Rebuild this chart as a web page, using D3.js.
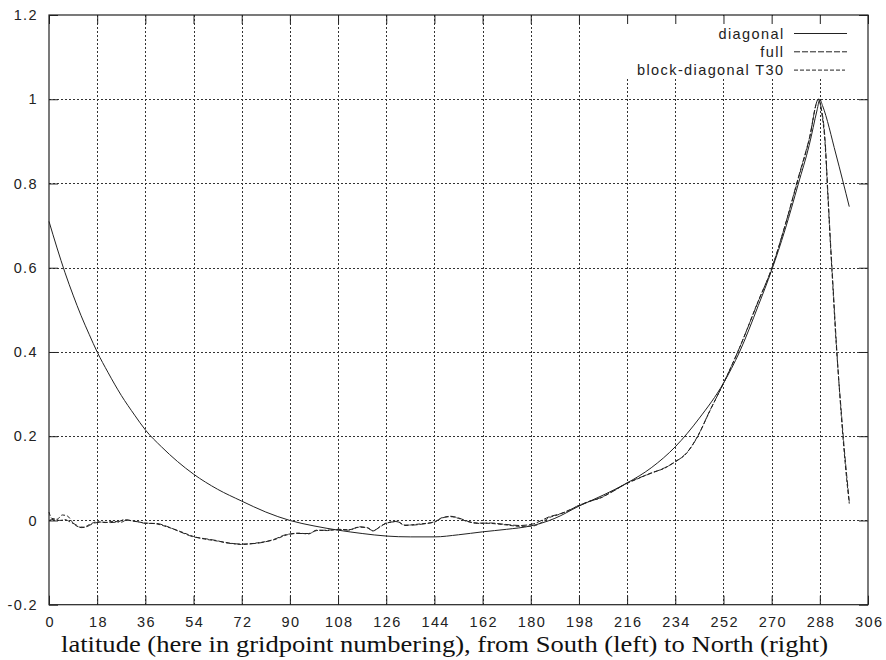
<!DOCTYPE html>
<html>
<head>
<meta charset="utf-8">
<script src="https://cdn.jsdelivr.net/npm/d3@7"></script>
<style>
  html, body { margin: 0; padding: 0; background: #fff; }
  svg { display: block; }
  .tick text, .legend text { font-family: "Liberation Sans", Arial, sans-serif; font-size: 14.5px; letter-spacing: 1.4px; fill: #222; }
</style>
</head>
<body>
<svg id="chart" width="886" height="660"></svg>
<script>
// Tick values
const xTicks = [0, 18, 36, 54, 72, 90, 108, 126, 144, 162, 180, 198, 216, 234, 252, 270, 288, 306];
const yTicks = [-0.2, 0, 0.2, 0.4, 0.6, 0.8, 1, 1.2];

// diagonal
const diagonalX = [0, 3, 6, 9, 12, 15, 18, 22, 27, 32, 36, 42, 48, 54, 63, 72, 81, 90, 99, 108, 117, 126, 135, 144, 153, 162, 171, 180, 189, 198, 207, 216, 225, 234, 243, 252, 258, 265, 270, 275, 280, 284, 287, 288, 289, 294, 299];
const diagonalY = [0.71, 0.647, 0.588, 0.535, 0.486, 0.442, 0.40, 0.352, 0.297, 0.250, 0.215, 0.175, 0.14, 0.11, 0.074, 0.046, 0.02, 0.0, -0.013, -0.023, -0.031, -0.037, -0.039, -0.039, -0.034, -0.027, -0.021, -0.013, 0.005, 0.034, 0.06, 0.089, 0.125, 0.175, 0.243, 0.326, 0.40, 0.51, 0.594, 0.69, 0.80, 0.89, 0.975, 1.0, 0.985, 0.87, 0.745];

// full
const fullX = [0, 2, 4, 6, 8, 10, 12, 14, 17, 20, 23, 26, 28, 31, 34, 36, 40, 44, 49, 54, 58, 62, 67, 72, 78, 84, 89, 93, 97, 100, 104, 108, 112, 116, 119, 121, 124, 126, 130, 133, 136, 139, 144, 147, 150, 153, 156, 160, 165, 170, 176, 181, 184, 187, 190, 193, 198, 202, 206, 211, 216, 220, 225, 230, 234, 238, 242, 247, 252, 258, 265, 270, 275, 280, 284, 287.5, 288.5, 290, 291, 292, 293, 294, 295, 296, 297, 298, 299];
const fullY = [0.0, 0.003, 0.0, 0.002, -0.004, -0.01, -0.017, -0.015, -0.006, -0.004, -0.005, -0.003, 0.002, -0.001, -0.004, -0.007, -0.007, -0.014, -0.027, -0.039, -0.043, -0.047, -0.054, -0.056, -0.054, -0.045, -0.033, -0.031, -0.031, -0.024, -0.023, -0.022, -0.023, -0.015, -0.018, -0.024, -0.014, -0.006, -0.003, -0.011, -0.011, -0.009, -0.003, 0.006, 0.010, 0.006, -0.001, -0.007, -0.006, -0.009, -0.012, -0.008, 0.0, 0.009, 0.014, 0.02, 0.036, 0.045, 0.054, 0.07, 0.089, 0.1, 0.112, 0.125, 0.139, 0.159, 0.195, 0.262, 0.325, 0.41, 0.52, 0.598, 0.70, 0.815, 0.905, 1.0, 0.98, 0.90, 0.78, 0.66, 0.55, 0.44, 0.34, 0.26, 0.18, 0.11, 0.045];

// block-diagonal T30
const blockX = [0, 1, 3, 5, 7, 9, 11, 13, 15, 18, 21, 24, 27, 29, 32, 36, 40, 44, 49, 54, 58, 62, 67, 72, 78, 84, 89, 93, 97, 100, 104, 108, 112, 116, 119, 121, 124, 126, 130, 133, 136, 139, 144, 147, 150, 153, 156, 160, 165, 170, 176, 181, 184, 187, 190, 193, 198, 202, 206, 211, 216, 220, 225, 230, 234, 238, 242, 247, 252, 258, 265, 270, 275, 280, 284, 287.5, 288.5, 290, 291, 292, 293, 294, 295, 296, 297, 298, 299];
const blockY = [0.02, 0.005, 0.003, 0.013, 0.01, -0.006, -0.015, -0.016, -0.01, -0.003, -0.005, -0.002, -0.004, 0.001, -0.002, -0.006, -0.008, -0.015, -0.026, -0.038, -0.044, -0.048, -0.053, -0.057, -0.053, -0.046, -0.034, -0.03, -0.032, -0.023, -0.024, -0.021, -0.022, -0.016, -0.017, -0.025, -0.013, -0.007, -0.002, -0.012, -0.01, -0.008, -0.004, 0.007, 0.009, 0.005, -0.002, -0.006, -0.007, -0.01, -0.014, -0.013, -0.005, 0.007, 0.013, 0.021, 0.035, 0.046, 0.053, 0.071, 0.088, 0.099, 0.113, 0.124, 0.14, 0.158, 0.196, 0.261, 0.326, 0.41, 0.521, 0.597, 0.70, 0.812, 0.903, 1.0, 0.975, 0.89, 0.77, 0.65, 0.54, 0.43, 0.34, 0.25, 0.17, 0.10, 0.04];

const svg = d3.select("#chart");
const plotLeft = 49, plotRight = 868, plotTop = 15, plotBottom = 604.7;
const x = d3.scaleLinear().domain([0, 306]).range([plotLeft, plotRight]);
const y = d3.scaleLinear().domain([-0.2, 1.2]).range([plotBottom, plotTop]);
const ink = "#222";

// dotted grid
const grid = svg.append("g").attr("stroke", "#333").attr("stroke-width", 1).attr("stroke-dasharray", "2,2");
grid.selectAll("line.gx").data(xTicks.slice(1, -1)).join("line")
  .attr("x1", d => Math.round(x(d)) + 0.5).attr("x2", d => Math.round(x(d)) + 0.5)
  .attr("y1", plotTop).attr("y2", plotBottom);
grid.selectAll("line.gy").data(yTicks.slice(1, -1)).join("line")
  .attr("x1", plotLeft).attr("x2", plotRight)
  .attr("y1", d => Math.round(y(d)) + 0.5).attr("y2", d => Math.round(y(d)) + 0.5);

// key area keeps the grid clear
svg.append("rect").attr("x", 624).attr("y", plotTop + 1).attr("width", plotRight - 625).attr("height", 63).attr("fill", "#fff");

// axes: inward ticks on all four sides
const tick = 9;
svg.append("g").attr("transform", `translate(0,${plotBottom})`)
  .call(d3.axisBottom(x).tickValues(xTicks).tickSizeInner(-tick).tickSizeOuter(0).tickPadding(12).tickFormat(d3.format("d")))
  .call(g => g.select(".domain").remove())
  .call(g => g.selectAll("text").attr("dx", "0.7"));
svg.append("g").attr("transform", `translate(${plotLeft},0)`)
  .call(d3.axisLeft(y).tickValues(yTicks).tickSizeInner(-tick).tickSizeOuter(0).tickPadding(11).tickFormat(d => String(+d.toFixed(1))))
  .call(g => g.select(".domain").remove());
svg.append("g").attr("transform", `translate(0,${plotTop})`)
  .call(d3.axisTop(x).tickValues(xTicks).tickSizeInner(-tick).tickSizeOuter(0).tickFormat(""))
  .call(g => g.select(".domain").remove());
svg.append("g").attr("transform", `translate(${plotRight},0)`)
  .call(d3.axisRight(y).tickValues(yTicks).tickSizeInner(-tick).tickSizeOuter(0).tickFormat(""))
  .call(g => g.select(".domain").remove());
svg.selectAll(".tick line").attr("stroke", ink);

// frame
svg.append("rect").attr("x", plotLeft).attr("y", plotTop).attr("width", plotRight - plotLeft).attr("height", plotBottom - plotTop)
  .attr("fill", "none").attr("stroke", ink).attr("stroke-width", 1.2);

// curves
const series = [
  { name: "diagonal", xs: diagonalX, ys: diagonalY, dash: null },
  { name: "full", xs: fullX, ys: fullY, dash: "6,2" },
  { name: "block-diagonal T30", xs: blockX, ys: blockY, dash: "4,2" }
];
const line = d3.line().x(d => x(d[0])).y(d => y(d[1])).curve(d3.curveMonotoneX);
series.forEach(s => {
  svg.append("path")
    .datum(s.xs.map((v, i) => [v, s.ys[i]]))
    .attr("fill", "none").attr("stroke", ink).attr("stroke-width", 1)
    .attr("stroke-dasharray", s.dash)
    .attr("d", line);
});

// key
const key = svg.append("g").attr("class", "legend");
series.forEach((s, i) => {
  const yy = 33.5 + i * 18.3;
  key.append("text").attr("x", 784.5).attr("y", yy).attr("dy", "0.35em").attr("text-anchor", "end").text(s.name);
  key.append("line").attr("x1", 794).attr("x2", i === 2 ? 845 : 847).attr("y1", yy).attr("y2", yy)
    .attr("stroke", ink).attr("stroke-width", 1).attr("stroke-dasharray", s.dash);
});

// x axis title
svg.append("text")
  .attr("x", 444.5).attr("y", 651.5)
  .attr("text-anchor", "middle")
  .attr("font-family", "'Liberation Serif', 'Times New Roman', serif")
  .attr("font-size", 23).attr("fill", "#111")
  .attr("textLength", 767).attr("lengthAdjust", "spacingAndGlyphs")
  .text("latitude (here in gridpoint numbering), from South (left) to North (right)");
</script>
</body>
</html>
